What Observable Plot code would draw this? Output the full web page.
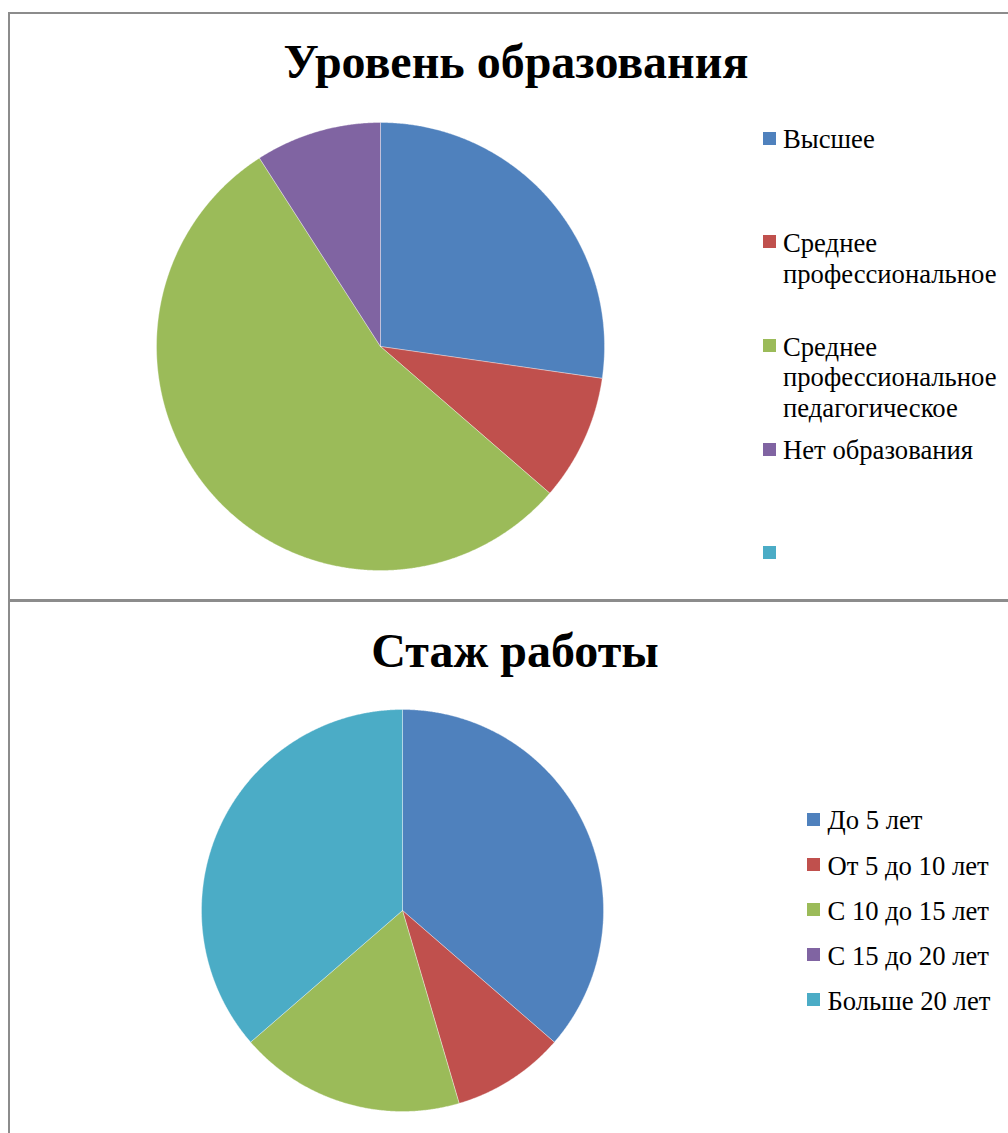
<!DOCTYPE html>
<html><head><meta charset="utf-8">
<script src="https://cdn.jsdelivr.net/npm/d3@7"></script>
<script src="https://cdn.jsdelivr.net/npm/@observablehq/plot@0.6"></script>
<style>
html,body{margin:0;padding:0;background:#fff;overflow:hidden;width:1008px;height:1133px;position:relative;}
.box{position:absolute;border:2px solid #8c8c8c;box-sizing:border-box;background:#fff;}
.title{position:absolute;font-family:"Liberation Serif","Times New Roman",serif;font-weight:bold;font-size:48px;line-height:48px;white-space:nowrap;transform:translateX(-50%);color:#000;}
.leg{position:absolute;font-family:"Liberation Serif","Times New Roman",serif;font-size:26.67px;line-height:30.5px;color:#000;}
.sw{position:absolute;width:13px;height:13px;}
.pie{position:absolute;}
</style></head><body>
<script>
// ---- data ----
const eduTitle = "Уровень образования";
const eduCategories = ["Высшее", "Среднее профессиональное", "Среднее профессиональное педагогическое", "Нет образования", ""];
const eduValues = [3, 1, 6, 1, 0];

const expTitle = "Стаж работы";
const expCategories = ["До 5 лет", "От 5 до 10 лет", "С 10 до 15 лет", "С 15 до 20 лет", "Больше 20 лет"];
const expValues = [4, 1, 2, 0, 4];

const palette = ["#4F81BD", "#C0504D", "#9BBB59", "#8064A2", "#4BACC6"];

// ---- helpers ----
function pieRows(values) {
  const arcs = d3.pie().sort(null).value(d => d)(values);
  const rows = [];
  arcs.forEach((a, i) => {
    const span = a.endAngle - a.startAngle;
    if (span <= 0) return;
    const n = Math.max(2, Math.ceil(span / 0.005));
    rows.push({k: i, x: 0, y: 0});
    for (let j = 0; j <= n; j++) {
      const t = a.startAngle + span * j / n;
      rows.push({k: i, x: Math.sin(t), y: Math.cos(t)});
    }
    rows.push({k: i, x: 0, y: 0});
  });
  return rows;
}

function drawPie(values, cx, cy, r) {
  const rows = pieRows(values);
  const m = 1;
  const svg = Plot.plot({
    width: 2 * r + 2 * m,
    height: 2 * r + 2 * m,
    margin: m,
    x: {domain: [-1, 1], axis: null},
    y: {domain: [-1, 1], axis: null},
    color: {domain: d3.range(palette.length), range: palette},
    marks: [
      Plot.line(rows, {x: "x", y: "y", z: "k", fill: "k", stroke: "#ffffff", strokeWidth: 0.5, strokeOpacity: 0.7, curve: "linear-closed"})
    ]
  });
  svg.classList.add("pie");
  svg.style.left = (cx - r - m) + "px";
  svg.style.top = (cy - r - m) + "px";
  svg.style.background = "transparent";
  document.body.appendChild(svg);
}

function addBox(left, top, width, height) {
  const d = document.createElement("div");
  d.className = "box";
  Object.assign(d.style, {left: left + "px", top: top + "px", width: width + "px", height: height + "px"});
  document.body.appendChild(d);
}

function addTitle(text, cx, top) {
  const t = document.createElement("div");
  t.className = "title";
  t.textContent = text;
  t.style.left = cx + "px";
  t.style.top = top + "px";
  document.body.appendChild(t);
}

function addLegend(categories, swX, textX, baseline0, step, textWidth) {
  categories.forEach((c, i) => {
    const b = baseline0 + i * step;
    const s = document.createElement("div");
    s.className = "sw";
    s.style.background = palette[i];
    s.style.left = swX + "px";
    s.style.top = (b - 16.8) + "px";
    document.body.appendChild(s);
    const t = document.createElement("div");
    t.className = "leg";
    t.textContent = c;
    t.style.left = textX + "px";
    t.style.top = (b - 24) + "px";
    t.style.width = textWidth + "px";
    document.body.appendChild(t);
  });
}

// ---- top chart ----
addBox(8, 12, 1100, 589);
addTitle(eduTitle, 516, 38);
drawPie(eduValues, 380, 346, 224);
addLegend(eduCategories, 763, 783, 148.3, 103.7, 225);

// ---- bottom chart ----
addBox(8, 600, 1100, 600);
addTitle(expTitle, 515, 626.5);
drawPie(expValues, 402, 910, 201);
addLegend(expCategories, 807, 827.5, 829.3, 45.2, 200);
</script>
</body></html>
